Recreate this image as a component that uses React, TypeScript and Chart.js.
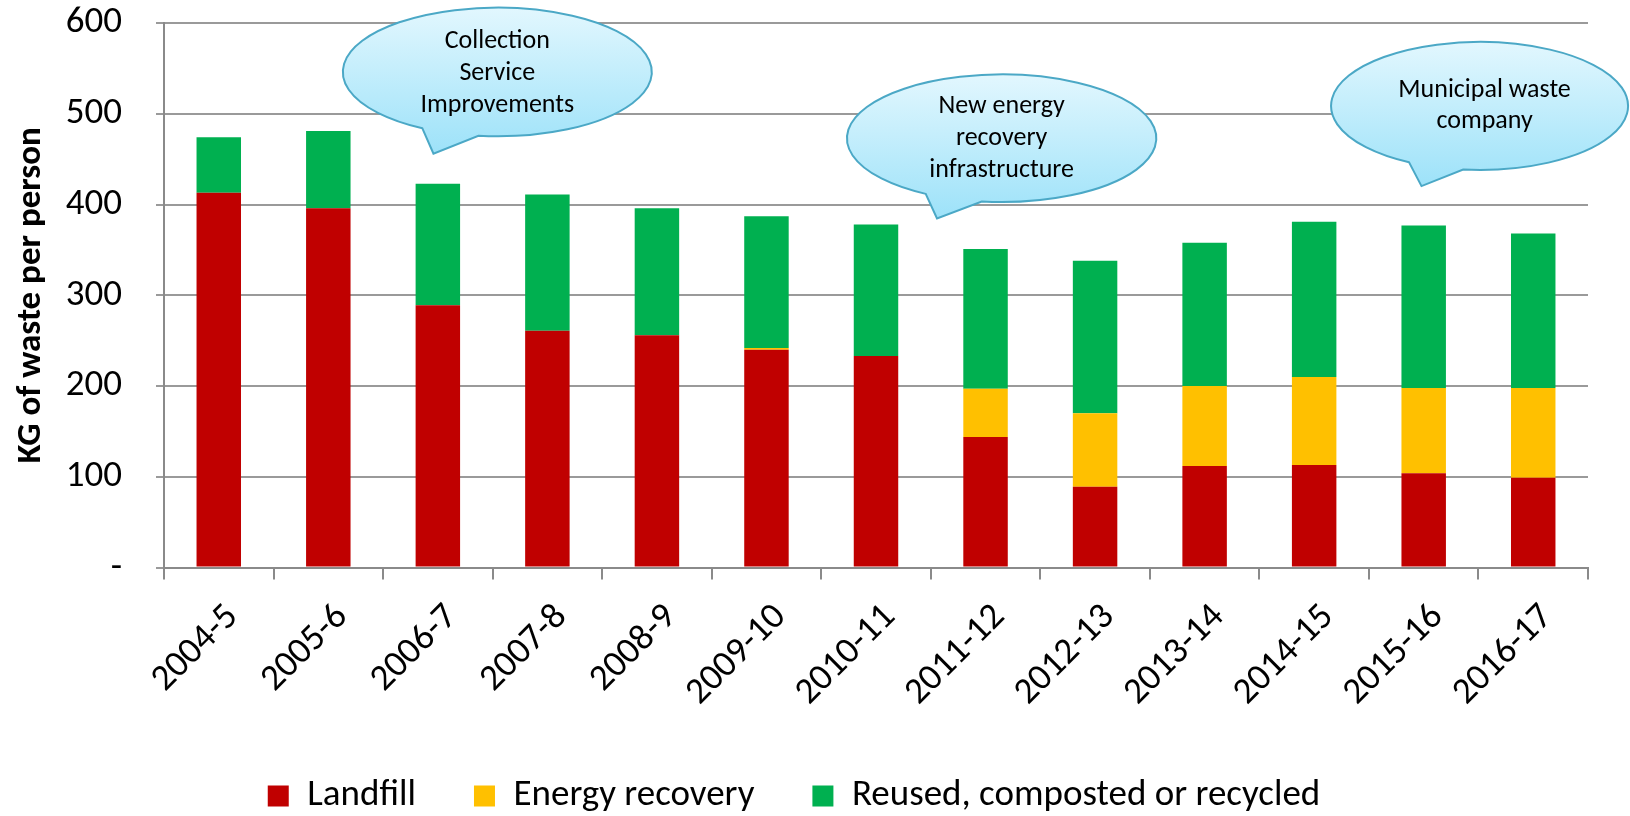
import React, { useEffect, useRef } from "react";
import { Chart, registerables } from "chart.js";

Chart.register(...registerables);

const categories = [
  "2004-5", "2005-6", "2006-7", "2007-8", "2008-9", "2009-10", "2010-11",
  "2011-12", "2012-13", "2013-14", "2014-15", "2015-16", "2016-17",
];
const landfill = [413, 396, 289, 261, 256, 240, 233, 144, 89, 112, 113, 104, 99];
const energyRecovery = [0, 0, 0, 0, 0, 2, 0, 53, 81, 88, 97, 94, 99];
const recycled = [61, 85, 134, 150, 140, 145, 145, 154, 168, 158, 171, 179, 170];
const seriesNames = ["Landfill", "Energy recovery", "Reused, composted or recycled"];
const yTickValues = [0, 100, 200, 300, 400, 500, 600];

const calloutTexts = [
  ["Collection", "Service", "Improvements"],
  ["New energy", "recovery", "infrastructure"],
  ["Municipal waste", "company"],
];
// anchors in data space (category index, value)
const calloutCenterCat = [2.543, 7.147, 11.51];
const calloutCenterVal = [546, 473, 508.6];
const calloutTipCat = [1.96, 6.557, 10.98];
const calloutTipVal = [456, 384.7, 420.3];

const FONT = "Carlito, Lato, sans-serif";

const calloutStyle = [
  { rx: 154.5, ry: 64.3, dx: 0, dy: 1.6 },
  { rx: 154.7, ry: 63.8, dx: 0, dy: 0.4 },
  { rx: 148.5, ry: 64, dx: 5, dy: 0 },
];

const calloutPlugin = {
  id: "callouts",
  afterDraw(chart: any) {
    const { ctx } = chart;
    const x = chart.scales.x;
    const y = chart.scales.y;
    calloutTexts.forEach((lines, i) => {
      const st = calloutStyle[i];
      const cx = x.getPixelForValue(calloutCenterCat[i]);
      const cy = y.getPixelForValue(calloutCenterVal[i]);
      const tx = x.getPixelForValue(calloutTipCat[i]);
      const ty = y.getPixelForValue(calloutTipVal[i]);
      const theta = Math.atan2((ty - cy) / st.ry, (tx - cx) / st.rx);
      const d = (11 * Math.PI) / 180;
      ctx.save();
      ctx.beginPath();
      ctx.ellipse(cx, cy, st.rx, st.ry, 0, theta + d, theta - d + 2 * Math.PI, false);
      ctx.lineTo(tx, ty);
      ctx.closePath();
      const g = ctx.createLinearGradient(0, cy - st.ry, 0, ty);
      g.addColorStop(0, "#e2f7fe");
      g.addColorStop(1, "#9de2f9");
      ctx.fillStyle = g;
      ctx.fill();
      ctx.strokeStyle = "#4ba8c6";
      ctx.lineWidth = 2;
      ctx.stroke();
      ctx.fillStyle = "#000";
      ctx.font = `26px ${FONT}`;
      ctx.textAlign = "center";
      ctx.textBaseline = "middle";
      const lh = 31.7;
      const n = lines.length;
      lines.forEach((t, k) => {
        ctx.fillText(t, cx + st.dx, cy + st.dy + (k - (n - 1) / 2) * lh);
      });
      ctx.restore();
    });
  },
};

export default function App() {
  const canvasRef = useRef<HTMLCanvasElement | null>(null);

  useEffect(() => {
    document.body.style.margin = "0";
    if (!canvasRef.current) return;
    Chart.defaults.font.family = FONT;
    Chart.defaults.color = "#000";

    const chart = new Chart(canvasRef.current, {
      type: "bar",
      data: {
        labels: categories,
        datasets: [
          { label: seriesNames[0], data: landfill, backgroundColor: "#C00000" },
          { label: seriesNames[1], data: energyRecovery, backgroundColor: "#FFC000" },
          { label: seriesNames[2], data: recycled, backgroundColor: "#00B050" },
        ],
      },
      options: {
        animation: false,
        responsive: true,
        maintainAspectRatio: false,
        datasets: {
          bar: { barPercentage: 0.406, categoryPercentage: 1, borderWidth: 0 },
        },
        layout: { padding: { top: 23, right: 42, left: 0, bottom: -8.5 } },
        plugins: {
          tooltip: { enabled: false },
          legend: {
            position: "bottom",
            labels: {
              boxWidth: 21,
              boxHeight: 21,
              padding: 58,
              font: { size: 37 },
              color: "#000",
            },
          },
        },
        scales: {
          x: {
            stacked: true,
            grid: {
              display: true,
              drawOnChartArea: false,
              drawTicks: true,
              tickLength: 12,
              color: "#8a8a8a",
              lineWidth: 2,
              offset: true,
            },
            border: { color: "#8a8a8a", width: 2 },
            ticks: {
              autoSkip: false,
              maxRotation: 45,
              minRotation: 45,
              padding: 16,
              labelOffset: 14,
              font: { size: 37 },
              color: "#000",
            },
            afterFit(scale: any) {
              scale.height = 151.9;
              scale.paddingLeft = 0;
              scale.paddingRight = 0;
            },
          },
          y: {
            stacked: true,
            min: 0,
            max: 600,
            afterBuildTicks(scale: any) {
              scale.ticks = yTickValues.map((v) => ({ value: v }));
            },
            ticks: {
              padding: 34,
              font: { size: 37 },
              color: "#000",
              callback: (v: any) => (Number(v) === 0 ? "-" : String(v)),
            },
            grid: {
              color: "#9a9a9a",
              lineWidth: 2,
              drawTicks: true,
              tickLength: 8,
            },
            border: { color: "#8a8a8a", width: 2 },
            title: {
              display: true,
              text: "KG of waste per person",
              font: { size: 35, weight: "bold" },
              color: "#000",
              padding: { top: 10, bottom: 0 },
            },
            afterFit(scale: any) {
              scale.width = 164;
              scale.paddingTop = 0;
              scale.paddingBottom = 0;
            },
          },
        },
      },
      plugins: [calloutPlugin],
    } as any);

    return () => chart.destroy();
  }, []);

  return (
    <div style={{ width: 1630, height: 816, position: "relative" }}>
      <canvas ref={canvasRef} />
    </div>
  );
}
